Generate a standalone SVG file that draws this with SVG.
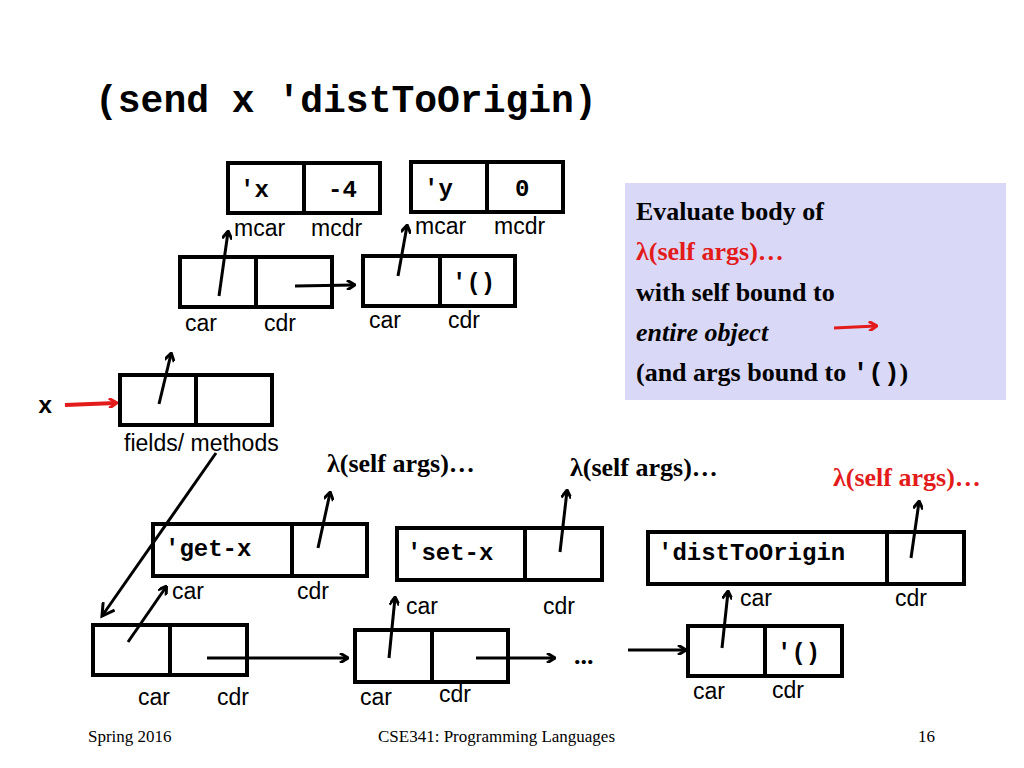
<svg xmlns="http://www.w3.org/2000/svg" width="1024" height="768" viewBox="0 0 1024 768">
<defs>
<marker id="ah" markerWidth="10" markerHeight="10" refX="8" refY="5" orient="auto" markerUnits="userSpaceOnUse"><path d="M1,0 L9,5 L1,10" fill="none" stroke="#000" stroke-width="3"/></marker>
<marker id="ahr" markerWidth="10" markerHeight="10" refX="8" refY="5" orient="auto" markerUnits="userSpaceOnUse"><path d="M1,0 L9,5 L1,10" fill="none" stroke="#e31b1b" stroke-width="3"/></marker>
<marker id="ahl" markerWidth="16" markerHeight="16" refX="13" refY="8" orient="auto" markerUnits="userSpaceOnUse"><path d="M1,1 L13,8 L1,15" fill="none" stroke="#000" stroke-width="3"/></marker>
</defs>
<style>
.b{fill:#fff;stroke:#000;stroke-width:4}
.m{font-family:"Liberation Mono",monospace;font-weight:bold;font-size:24px}
.s{font-family:"Liberation Sans",Arial,sans-serif;font-size:23px}
.t{font-family:"Liberation Serif","Times New Roman",serif;font-weight:bold;font-size:26px}
.f{font-family:"Liberation Serif","Times New Roman",serif;font-size:17px}
.c{stroke:#000;stroke-width:3;fill:none;marker-end:url(#ah)}
</style>
<rect width="1024" height="768" fill="#fff"/>
<text x="95" y="112" font-family="Liberation Mono,monospace" font-weight="bold" font-size="38">(send x 'distToOrigin)</text>
<g id="box-explain">
<rect x="625" y="183" width="381" height="217" fill="#d9d9f7"/>
<text class="t" x="636" y="220">Evaluate body of</text>
<text class="t" x="636" y="260" fill="#e31b1b">λ(self args)…</text>
<text class="t" x="636" y="301">with self bound to</text>
<text class="t" x="636" y="341" font-style="italic">entire object</text>
<text class="t" x="636" y="381">(and args bound to <tspan font-family="Liberation Mono,monospace">'()</tspan>)</text>
<line x1="834" y1="328" x2="876" y2="326" stroke="#e31b1b" stroke-width="3" marker-end="url(#ahr)"/>
</g>
<g id="pair-x">
<rect class="b" x="228" y="163" width="152" height="50"/><line x1="304" y1="163" x2="304" y2="213" stroke="#000" stroke-width="4"/>
<text class="m" x="240" y="197">'x</text><text class="m" x="328" y="197">-4</text>
<text class="s" x="234" y="236">mcar</text><text class="s" x="311" y="236">mcdr</text>
</g>
<g id="pair-y">
<rect class="b" x="411" y="162" width="152" height="50"/><line x1="487" y1="162" x2="487" y2="212" stroke="#000" stroke-width="4"/>
<text class="m" x="424" y="196">'y</text><text class="m" x="515" y="196">0</text>
<text class="s" x="415" y="234">mcar</text><text class="s" x="494" y="234">mcdr</text>
</g>
<g id="fields1">
<rect class="b" x="180" y="257" width="152" height="50"/><line x1="256" y1="257" x2="256" y2="307" stroke="#000" stroke-width="4"/>
<text class="s" x="185" y="331">car</text><text class="s" x="264" y="331">cdr</text>
</g>
<g id="fields2">
<rect class="b" x="363" y="256" width="152" height="50"/><line x1="440" y1="256" x2="440" y2="306" stroke="#000" stroke-width="4"/>
<text class="m" x="452" y="290">'()</text>
<text class="s" x="369" y="328">car</text><text class="s" x="448" y="328">cdr</text>
</g>
<g id="obj">
<rect class="b" x="120" y="375" width="152" height="50"/><line x1="196" y1="375" x2="196" y2="425" stroke="#000" stroke-width="4"/>
<text class="m" x="38" y="413">x</text>
<text class="s" x="124" y="451">fields/ methods</text>
</g>
<g id="m-getx">
<rect class="b" x="153" y="524" width="214" height="52"/><line x1="292" y1="524" x2="292" y2="576" stroke="#000" stroke-width="4"/>
<text class="m" x="165" y="556">'get-x</text>
<text class="s" x="172" y="599">car</text><text class="s" x="297" y="599">cdr</text>
<text class="t" x="327" y="472">λ(self args)…</text>
</g>
<g id="m-setx">
<rect class="b" x="397" y="528" width="205" height="52"/><line x1="525" y1="528" x2="525" y2="580" stroke="#000" stroke-width="4"/>
<text class="m" x="407" y="560">'set-x</text>
<text class="s" x="406" y="614">car</text><text class="s" x="543" y="614">cdr</text>
<text class="t" x="570" y="476">λ(self args)…</text>
</g>
<g id="m-dist">
<rect class="b" x="648" y="532" width="316" height="52"/><line x1="887" y1="532" x2="887" y2="584" stroke="#000" stroke-width="4"/>
<text class="m" x="658" y="560" font-size="21">'distToOrigin</text>
<text class="s" x="740" y="606">car</text><text class="s" x="895" y="606">cdr</text>
<text class="t" x="833" y="486" fill="#e31b1b">λ(self args)…</text>
</g>
<g id="list1">
<rect class="b" x="93" y="625" width="154" height="50"/><line x1="170" y1="625" x2="170" y2="675" stroke="#000" stroke-width="4"/>
<text class="s" x="138" y="705">car</text><text class="s" x="217" y="705">cdr</text>
</g>
<g id="list2">
<rect class="b" x="355" y="630" width="153" height="52"/><line x1="432" y1="630" x2="432" y2="682" stroke="#000" stroke-width="4"/>
<text class="s" x="360" y="705">car</text><text class="s" x="439" y="702">cdr</text>
<text class="t" x="574" y="664">...</text>
</g>
<g id="list3">
<rect class="b" x="688" y="626" width="154" height="50"/><line x1="765" y1="626" x2="765" y2="676" stroke="#000" stroke-width="4"/>
<text class="m" x="777" y="660">'()</text>
<text class="s" x="693" y="699">car</text><text class="s" x="772" y="698">cdr</text>
</g>
<g id="connectors">
<line class="c" x1="219" y1="296" x2="228" y2="232"/>
<line class="c" x1="398" y1="276" x2="407" y2="226"/>
<line class="c" x1="295" y1="286" x2="354" y2="285"/>
<line class="c" x1="159" y1="404" x2="171" y2="354"/>
<line x1="65" y1="405" x2="116" y2="403" stroke="#e31b1b" stroke-width="4" marker-end="url(#ahr)"/>
<line x1="216" y1="453" x2="102" y2="616" stroke="#000" stroke-width="3" marker-end="url(#ahl)"/>
<line class="c" x1="318" y1="548" x2="330" y2="493"/>
<line class="c" x1="560" y1="552" x2="567" y2="491"/>
<line class="c" x1="911" y1="558" x2="919" y2="502"/>
<line class="c" x1="128" y1="642" x2="166" y2="587"/>
<line class="c" x1="389" y1="658" x2="395" y2="598"/>
<line class="c" x1="722" y1="648" x2="728" y2="592"/>
<line class="c" x1="207" y1="658" x2="347" y2="658"/>
<line class="c" x1="476" y1="658" x2="554" y2="658"/>
<line class="c" x1="628" y1="650" x2="685" y2="650"/>
</g>
<g id="footer">
<text class="f" x="88" y="742">Spring 2016</text>
<text class="f" x="378" y="742">CSE341: Programming Languages</text>
<text class="f" x="918" y="742">16</text>
</g>
</svg>
